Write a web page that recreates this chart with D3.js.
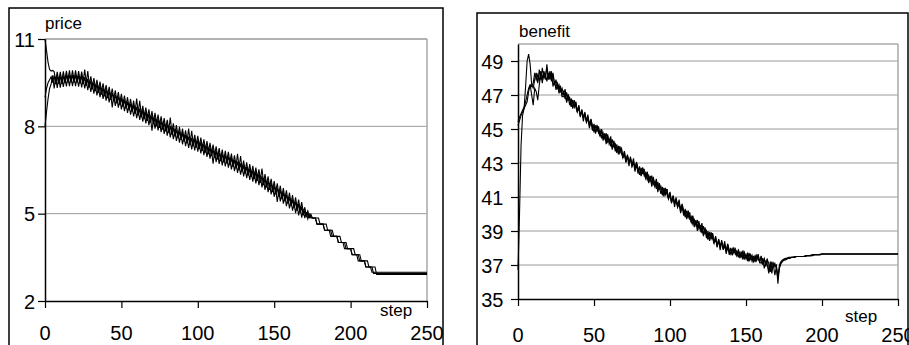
<!DOCTYPE html>
<html><head><meta charset="utf-8">
<script src="https://cdn.jsdelivr.net/npm/d3@7"></script>
<style>html,body{margin:0;padding:0;background:#fff;overflow:hidden}svg{display:block}text{font-family:"Liberation Sans",Arial,sans-serif;fill:#000}</style>
</head><body>
<svg id="c" width="909" height="345"></svg>
<script>
// ---------- data ----------
const steps = d3.range(0, 251);
const xTicks = [0, 50, 100, 150, 200, 250];
const priceTicks = [2, 5, 8, 11];
const benefitTicks = [35, 37, 39, 41, 43, 45, 47, 49];

const price1 = [11,10.6,10.2,9.95,9.9,9.92,9.88,9.55,9.87,9.55,
9.87,9.56,9.89,9.58,9.91, 9.6,9.92,9.6,9.92,9.6,
9.92,9.59,9.9,9.57,9.88, 9.55,9.95,9.49,9.9,9.43,
9.72,9.37,9.66,9.31,9.6, 9.25,9.54,9.19,9.48,9.13,
9.42,9.07,9.36,9.01,9.3, 8.95,9.24,8.89,9.18,8.83,
9.12,8.77,9.06,8.71,9.0, 8.65,8.94,8.59,8.88,8.53,
8.95,8.47,8.88,8.41,8.7, 8.35,8.64,8.29,8.58,8.23,
8.52,8.17,8.46,8.11,8.4, 8.05,8.34,7.99,8.28,7.93,
8.22,7.87,8.3,7.81,8.1, 7.75,8.04,7.69,7.98,7.63,
7.92,7.57,7.86,7.51,7.92, 7.45,7.85,7.41,7.71,7.37,
7.67,7.32,7.61,7.26,7.55, 7.2,7.49,7.14,7.43,7.08,
7.37,7.02,7.31,6.96,7.25, 6.9,7.2,6.86,7.16,6.82,
7.12,6.77,7.06,6.71,7.0, 6.65,7.06,6.59,6.98,6.53,
6.82,6.47,6.76,6.41,6.7, 6.35,6.64,6.29,6.58,6.23,
6.52,6.16,6.55,6.08,6.36, 6.0,6.28,5.92,6.2,5.84,
6.12,5.76,6.04,5.68,5.96, 5.6,5.88,5.52,5.8,5.44,
5.72,5.36,5.64,5.28,5.56, 5.2,5.48,5.12,5.4,5.04,
5.22,4.95,5.1,4.9,4.98,
4.85,4.85,4.85, 4.64,4.64,4.64,4.64,4.64, 4.43,4.43,4.43,4.43, 4.22,4.22,4.22,4.22,4.22,
4.01,4.01,4.01,4.01, 3.8,3.8,3.8,3.8,3.8, 3.59,3.59,3.59,3.59, 3.38,3.38,3.38,3.38,3.38,
3.17,3.17,3.17,3.17,
2.99,2.99,2.99,2.99,2.99,2.99,2.99,2.99,2.99,2.99,2.99,2.99,2.99,2.99,2.99,2.99,2.99,2.99,2.99,
2.99,2.99,2.99,2.99,2.99,2.99,2.99,2.99,2.99,2.99,2.99,2.99,2.99,2.99,2.99,2.99,2.99,2.99];

const price2 = [8,8.5,8.95,9.3,9.45,9.75,9.3,9.7,9.32,9.68,
9.33,9.66,9.35,9.68,9.37, 9.7,9.38,9.7,9.38,9.7,
9.38,9.69,9.36,9.67,9.34, 9.65,9.3,9.59,9.24,9.53,
9.18,9.47,9.12,9.41,9.06, 9.35,9.0,9.29,8.94,9.23,
8.88,9.17,8.82,9.11,8.65, 9.05,8.7,8.99,8.64,8.93,
8.58,8.87,8.52,8.81,8.46, 8.75,8.4,8.69,8.34,8.63,
8.28,8.57,8.22,8.51,8.16, 8.45,8.1,8.39,8.04,8.33,
7.85,8.27,7.92,8.21,7.86, 8.15,7.8,8.09,7.74,8.03,
7.68,7.97,7.62,7.91,7.56, 7.85,7.5,7.79,7.44,7.73,
7.38,7.67,7.32,7.61,7.26, 7.55,7.21,7.51,7.17,7.47,
7.13,7.42,7.07,7.36,7.01, 7.3,6.95,7.24,6.89,7.18,
6.72,7.12,6.77,7.06,6.71, 7.0,6.66,6.96,6.62,6.92,
6.58,6.87,6.52,6.81,6.46, 6.75,6.4,6.69,6.34,6.63,
6.28,6.57,6.22,6.51,6.16, 6.45,6.1,6.39,6.04,6.33,
5.98,6.26,5.9,6.18,5.82, 6.1,5.74,6.02,5.66,5.94,
5.58,5.86,5.4,5.78,5.42, 5.7,5.34,5.62,5.26,5.54,
5.18,5.46,5.1,5.38,5.02, 5.3,4.94,5.22,4.86,5.14,
4.85,5.05,4.82,4.98,4.85,
4.85,4.85,4.85,4.85,4.85, 4.64,4.64,4.64,4.64,4.64, 4.43,4.43,4.43,4.43, 4.22,4.22,4.22,4.22,4.22,
4.01,4.01,4.01,4.01, 3.8,3.8,3.8,3.8,3.8, 3.59,3.59,3.59,3.59, 3.38,3.38,3.38,3.38,3.38,
3.17,3.17,3.17,3.17,3.17,
2.91,2.91,2.91,2.91,2.91,2.91,2.91,2.91,2.91,2.91,2.91,2.91,2.91,2.91,2.91,2.91,2.91,
2.91,2.91,2.91,2.91,2.91,2.91,2.91,2.91,2.91,2.91,2.91,2.91,2.91,2.91,2.91,2.91,2.91];

const price3 = [9.0,9.3,9.5,9.6,9.7,9.5,9.75,9.45,9.72,9.46,
9.72,9.46,9.74,9.48,9.76, 9.5,9.77,9.5,9.77,9.5,
9.77,9.49,9.75,9.47,9.73, 9.45,9.69,9.39,9.63,9.33,
9.57,9.27,9.51,9.21,9.45, 9.15,9.39,9.09,9.33,9.03,
9.27,8.97,9.21,8.91,9.15, 8.85,9.09,8.79,9.03,8.73,
8.97,8.67,8.91,8.61,8.85, 8.55,8.79,8.49,8.73,8.43,
8.67,8.37,8.61,8.31,8.55, 8.25,8.49,8.19,8.43,8.13,
8.37,8.07,8.31,8.01,8.25, 7.95,8.19,7.89,8.13,7.83,
8.07,7.77,8.01,7.71,7.95, 7.65,7.89,7.59,7.83,7.53,
7.77,7.47,7.71,7.41,7.65, 7.35,7.6,7.31,7.56,7.27,
7.52,7.22,7.46,7.16,7.4, 7.1,7.34,7.04,7.28,6.98,
7.22,6.92,7.16,6.86,7.1, 6.8,7.05,6.76,7.01,6.72,
6.97,6.67,6.91,6.61,6.85, 6.55,6.79,6.49,6.73,6.43,
6.67,6.37,6.61,6.31,6.55, 6.25,6.49,6.19,6.43,6.13,
6.37,6.06,6.29,5.98,6.21, 5.9,6.13,5.82,6.05,5.74,
5.97,5.66,5.89,5.58,5.81, 5.5,5.73,5.42,5.65,5.34,
5.57,5.26,5.49,5.18,5.41, 5.1,5.33,5.02,5.25,4.94,
5.1,4.9,5.0,4.86,4.9,
4.85,4.85,4.85, 4.64,4.64,4.64,4.64,4.64, 4.43,4.43,4.43,4.43,4.43, 4.22,4.22,4.22,4.22,
4.01,4.01,4.01,4.01,4.01, 3.8,3.8,3.8,3.8, 3.59,3.59,3.59,3.59,3.59, 3.38,3.38,3.38,3.38,
3.17,3.17,3.17,3.17,3.17,
2.95,2.95,2.95,2.95,2.95,2.95,2.95,2.95,2.95,2.95,2.95,2.95,2.95,2.95,2.95,2.95,2.95,2.95,
2.95,2.95,2.95,2.95,2.95,2.95,2.95,2.95,2.95,2.95,2.95,2.95,2.95,2.95,2.95,2.95,2.95,2.95];

const benefit1 = [45.4,45.7,45.9,46.1,46.3,46.6,47.0,47.4,47.6,47.5,
47.7,48.3,47.9,48.2,47.8,48.4,48.0,48.3,47.9,48.8,
48.0,48.3,47.8,48.2,47.6,47.9,47.4,47.6,47.2,47.4,
47.0,47.35,46.65,46.9,46.4, 46.8,46.2,46.7,46.3,46.0,
46.4,45.8,46.05,45.45,45.9, 45.5,45.85,45.15,45.4,44.9,
45.3,44.72,45.24,44.86,44.58, 45.0,44.42,44.69,44.11,44.58,
44.2,44.57,43.89,44.16,43.68, 44.1,43.5,44.0,43.6,43.3,
43.7,43.12,43.39,42.81,43.28, 42.9,43.27,42.59,42.86,42.38,
42.8,42.22,42.74,42.36,42.08, 42.5,41.92,42.19,41.61,42.08,
41.7,42.07,41.39,41.66,41.18, 41.6,41.02,41.54,41.16,40.88,
41.3,40.72,40.99,40.41,40.88, 40.5,40.85,40.15,40.4,39.9,
40.3,39.7,40.2,39.8,39.5, 39.9,39.32,39.59,39.01,39.48,
39.1,39.47,38.79,39.06,38.58, 39.0,38.42,38.94,38.56,38.28,
38.7,38.14,38.43,37.87,38.36, 38.0,38.4,37.75,38.05,37.6,
37.99,37.6,37.98,37.73,37.55, 37.86,37.48,37.69,37.31,37.67,
37.43,37.73,37.28,37.51,37.21, 37.54,37.17,37.57,37.34,37.18,
37.54,37.1,37.34,36.9,37.3, 37.1,36.6,37.2,36.9,37.1,
36.8,36.2,37.0,37.2,37.3,37.35,37.4,37.4,37.45,37.45,
37.45,37.45,37.5,37.5,37.5,37.5,37.5,37.5,37.5,37.55,
37.55,37.55,37.55,37.6,37.6,37.6,37.6,37.6,37.6,37.65,
37.65,37.65,37.65,37.65,37.65,37.65,37.65,37.65,37.65,37.65,
37.65,37.65,37.65,37.65,37.65,37.65,37.65,37.65,37.65,37.65,
37.65,37.65,37.65,37.65,37.65,37.65,37.65,37.65,37.65,37.65,
37.65,37.65,37.65,37.65,37.65,37.65,37.65,37.65,37.65,37.65,
37.65,37.65,37.65,37.65,37.65,37.65,37.65,37.65,37.65,37.65,
37.65];

const benefit2 = [36.7,40.0,44.0,45.8,46.2,47.5,49.0,49.4,48.8,47.6,
47.4,47.9,48.3,47.7,48.5,47.9,48.6,48.0,48.2,47.8,
48.3,47.9,48.4,47.5,47.8,47.3,47.6,47.1,47.4,46.9,
46.9,47.1,46.55,47.05,46.7, 46.3,46.7,46.3,46.6,46.0,
46.35,45.7,46.1,45.65,46.0, 45.4,45.6,45.05,45.55,45.2,
44.8,45.22,44.84,45.16,44.58, 44.95,44.32,44.74,44.31,44.68,
44.1,44.32,43.79,44.31,43.98, 43.6,44.0,43.6,43.9,43.3,
43.65,43.02,43.44,43.01,43.38, 42.8,43.02,42.49,43.01,42.68,
42.3,42.72,42.34,42.66,42.08, 42.45,41.82,42.24,41.81,42.18,
41.6,41.82,41.29,41.81,41.48, 41.1,41.52,41.14,41.46,40.88,
41.25,40.62,41.04,40.61,40.98, 40.4,40.6,40.05,40.55,40.2,
39.8,40.2,39.8,40.1,39.5, 39.85,39.22,39.64,39.21,39.58,
39.0,39.22,38.69,39.21,38.88, 38.5,38.92,38.54,38.86,38.28,
38.65,38.04,38.48,38.07,38.46, 37.9,38.15,37.65,38.2,37.9,
37.64,37.95,37.7,37.94,37.55, 37.83,37.41,37.73,37.46,37.74,
37.36,37.55,37.21,37.62,37.42, 37.19,37.52,37.29,37.55,37.18,
37.5,37.02,37.38,37.06,37.38, 36.6,37.0,36.5,37.1,36.9,
37.0,35.9,36.9,37.1,37.25,37.3,37.35,37.4,37.4,37.4,
37.45,37.45,37.45,37.5,37.5,37.5,37.5,37.5,37.5,37.5,
37.55,37.55,37.55,37.55,37.6,37.6,37.6,37.6,37.6,37.6,
37.65,37.65,37.65,37.65,37.65,37.65,37.65,37.65,37.65,37.65,
37.65,37.65,37.65,37.65,37.65,37.65,37.65,37.65,37.65,37.65,
37.65,37.65,37.65,37.65,37.65,37.65,37.65,37.65,37.65,37.65,
37.65,37.65,37.65,37.65,37.65,37.65,37.65,37.65,37.65,37.65,
37.65,37.65,37.65,37.65,37.65,37.65,37.65,37.65,37.65,37.65,
37.65];

const benefit3 = [45.2,45.5,45.8,46.0,46.2,46.4,46.6,47.2,47.6,47.0,
46.4,47.4,47.2,46.7,47.6,48.2,47.7,48.4,48.1,48.6,
47.9,48.4,48.0,48.3,47.7,47.5,47.7,47.3,47.5,47.0,
47.2,46.75,47.15,46.7,46.85, 46.4,46.65,46.3,46.6,46.05,
46.2,45.75,46.15,45.7,45.85, 45.4,45.65,45.3,45.6,45.05,
45.2,44.77,45.19,44.76,44.93, 44.5,44.77,44.44,44.76,44.23,
44.4,43.97,44.39,43.96,44.13, 43.7,43.95,43.6,43.9,43.35,
43.5,43.07,43.49,43.06,43.23, 42.8,43.07,42.74,43.06,42.53,
42.7,42.27,42.69,42.26,42.43, 42.0,42.27,41.94,42.26,41.73,
41.9,41.47,41.89,41.46,41.63, 41.2,41.47,41.14,41.46,40.93,
41.1,40.67,41.09,40.66,40.83, 40.4,40.65,40.3,40.6,40.05,
40.2,39.75,40.15,39.7,39.85, 39.4,39.67,39.34,39.66,39.13,
39.3,38.87,39.29,38.86,39.03, 38.6,38.87,38.54,38.86,38.33,
38.5,38.09,38.53,38.12,38.31, 37.9,38.2,37.9,38.25,37.75,
37.95,37.56,38.02,37.63,37.84, 37.45,37.77,37.49,37.86,37.38,
37.6,37.23,37.71,37.34,37.57, 37.2,37.53,37.26,37.64,37.17,
37.1,37.4,36.8,37.2,37.0, 36.5,37.2,36.8,37.0,36.4,
36.9,36.3,36.8,37.1,37.2,37.3,37.3,37.35,37.4,37.4,
37.45,37.45,37.45,37.5,37.5,37.5,37.5,37.5,37.5,37.5,
37.55,37.55,37.55,37.55,37.55,37.6,37.6,37.6,37.6,37.6,
37.65,37.65,37.65,37.65,37.65,37.65,37.65,37.65,37.65,37.65,
37.65,37.65,37.65,37.65,37.65,37.65,37.65,37.65,37.65,37.65,
37.65,37.65,37.65,37.65,37.65,37.65,37.65,37.65,37.65,37.65,
37.65,37.65,37.65,37.65,37.65,37.65,37.65,37.65,37.65,37.65,
37.65,37.65,37.65,37.65,37.65,37.65,37.65,37.65,37.65,37.65,
37.65];

const priceSeries = [price1, price2, price3];
const benefitSeries = [benefit1, benefit2, benefit3];

// ---------- drawing ----------
const svg = d3.select("#c");

function panel(cfg) {
  const g = svg.append("g");
  g.append("rect").attr("x", cfg.box[0]).attr("y", cfg.box[1])
    .attr("width", cfg.box[2] - cfg.box[0]).attr("height", 400)
    .attr("fill", "none").attr("stroke", "#000").attr("stroke-width", 1.5);

  const x = d3.scaleLinear().domain([0, 250]).range([cfg.plot[0], cfg.plot[2]]);
  const y = d3.scaleLinear().domain(cfg.yDomain).range([cfg.plot[3], cfg.plot[1]]);

  g.append("g").selectAll("line").data(cfg.yTicks.filter(t => t !== cfg.yDomain[0]))
    .join("line")
    .attr("x1", x(0)).attr("x2", x(250))
    .attr("y1", d => y(d)).attr("y2", d => y(d))
    .attr("stroke", "#9a9a9a").attr("stroke-width", 1);
  g.append("line").attr("x1", x(0)).attr("x2", x(250)).attr("y1", y(cfg.yDomain[1])).attr("y2", y(cfg.yDomain[1]))
    .attr("stroke", "#a8a8a8").attr("stroke-width", 1.5);
  g.append("line").attr("x1", x(250)).attr("x2", x(250)).attr("y1", y(cfg.yDomain[1])).attr("y2", y(cfg.yDomain[0]))
    .attr("stroke", "#a8a8a8").attr("stroke-width", 1.5);

  const xa = g.append("g").attr("transform", `translate(0,${y(cfg.yDomain[0])})`)
    .call(d3.axisBottom(x).tickValues(cfg.xTicks).tickSize(7).tickSizeOuter(0).tickFormat(""));
  xa.select(".domain").attr("stroke", "#000").attr("stroke-width", 1.5);
  xa.selectAll(".tick line").attr("stroke", "#000").attr("stroke-width", 1.2);
  const ya = g.append("g").attr("transform", `translate(${x(0)},0)`)
    .call(d3.axisLeft(y).tickValues(cfg.yTicks).tickSize(7).tickSizeOuter(0).tickFormat(""));
  ya.select(".domain").attr("stroke", "#000").attr("stroke-width", 1.5);
  ya.selectAll(".tick line").attr("stroke", "#000").attr("stroke-width", 1.2);

  g.append("g").selectAll("text").data(cfg.xTicks).join("text")
    .attr("x", d => x(d)).attr("y", cfg.xLabelY)
    .attr("text-anchor", "middle").attr("font-size", 20).text(d => d);
  g.append("g").selectAll("text").data(cfg.yTicks).join("text")
    .attr("x", cfg.yLabelX).attr("y", d => y(d) + 7.5)
    .attr("text-anchor", "end").attr("font-size", 20).text(d => d);

  g.append("text").attr("x", cfg.title[0]).attr("y", cfg.title[1]).attr("font-size", 17).text(cfg.titleText);
  g.append("text").attr("x", cfg.step[0]).attr("y", cfg.step[1]).attr("font-size", 17).text("step");

  const line = d3.line().x((d, i) => x(steps[i])).y(d => y(d));
  g.append("g").selectAll("path").data(cfg.series).join("path")
    .attr("d", line).attr("fill", "none").attr("stroke", "#000").attr("stroke-width", 1.1)
    .attr("stroke-linejoin", "miter");
}

panel({
  box: [9, 8, 443], plot: [45, 39, 427, 301], yDomain: [2, 11], yTicks: priceTicks, xTicks: xTicks,
  xLabelY: 340, yLabelX: 35, title: [45, 29], titleText: "price", step: [380, 316], series: priceSeries
});
panel({
  box: [477, 13, 908], plot: [518, 44, 898, 299], yDomain: [35, 50], yTicks: benefitTicks, xTicks: xTicks,
  xLabelY: 342, yLabelX: 503.5, title: [519, 36.5], titleText: "benefit", step: [845, 322], series: benefitSeries
});
</script>
</body></html>
